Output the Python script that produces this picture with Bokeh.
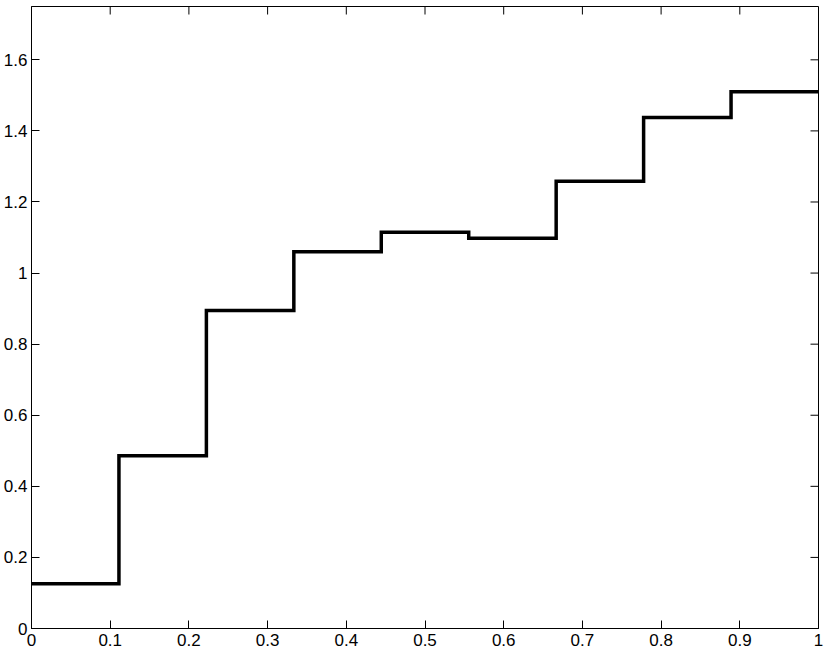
import math
from bokeh.plotting import figure
from bokeh.models import LinearAxis, FixedTicker, Range1d
from bokeh.embed import file_html
from bokeh.resources import INLINE

# Step data (bin edges and levels)
edges = [0, 1/9, 2/9, 3/9, 4/9, 5/9, 6/9, 7/9, 8/9, 1]
levels = [0.126, 0.486, 0.895, 1.060, 1.115, 1.098, 1.258, 1.438, 1.510]

x_ticks = [0, 0.1, 0.2, 0.3, 0.4, 0.5, 0.6, 0.7, 0.8, 0.9, 1]
x_labels = ["0", "0.1", "0.2", "0.3", "0.4", "0.5", "0.6", "0.7", "0.8", "0.9", "1"]
y_ticks = [0, 0.2, 0.4, 0.6, 0.8, 1, 1.2, 1.4, 1.6]
y_labels = ["0", "0.2", "0.4", "0.6", "0.8", "1", "1.2", "1.4", "1.6"]

X_MIN, X_MAX = 0, 1
Y_MIN, Y_MAX = 0, 1.75

FONT = "Liberation Sans"
FS = "17px"

p = figure(width=830, height=652, output_backend="svg", toolbar_location=None,
           x_range=Range1d(X_MIN, X_MAX), y_range=Range1d(Y_MIN, Y_MAX),
           x_axis_location=None, y_axis_location=None,
           min_border_left=30, min_border_right=12, min_border_top=6, min_border_bottom=24)
p.grid.visible = False
p.outline_line_color = "black"
p.outline_line_width = 1
p.background_fill_color = "white"
p.border_fill_color = "white"

ys = levels + [levels[-1]]
p.step(edges, ys, mode="after", line_color="black", line_width=3.5, line_join="miter")


def make_axis(loc, ticks, labels, standoff):
    ax = LinearAxis()
    ax.ticker = FixedTicker(ticks=ticks)
    ax.major_label_overrides = {t: l for t, l in zip(ticks, labels)}
    ax.major_tick_in = 8
    ax.major_tick_out = 0
    ax.minor_tick_in = 0
    ax.minor_tick_out = 0
    ax.axis_line_color = "black"
    ax.major_tick_line_color = "black"
    ax.major_label_text_font = FONT
    ax.major_label_text_color = "black"
    ax.major_label_text_font_size = FS
    ax.major_label_standoff = standoff
    p.add_layout(ax, loc)
    return ax


make_axis("below", x_ticks, x_labels, 5)
make_axis("left", y_ticks, y_labels, 4)

# mirrored inward ticks on the top and right edges of the box
p.ray(x=x_ticks, y=[Y_MAX] * len(x_ticks), length=8, length_units="screen",
      angle=-math.pi / 2, line_color="black", line_width=1)
p.ray(x=[X_MAX] * len(y_ticks), y=y_ticks, length=8, length_units="screen",
      angle=math.pi, line_color="black", line_width=1)

open("out.html", "w").write(file_html(p, INLINE))
